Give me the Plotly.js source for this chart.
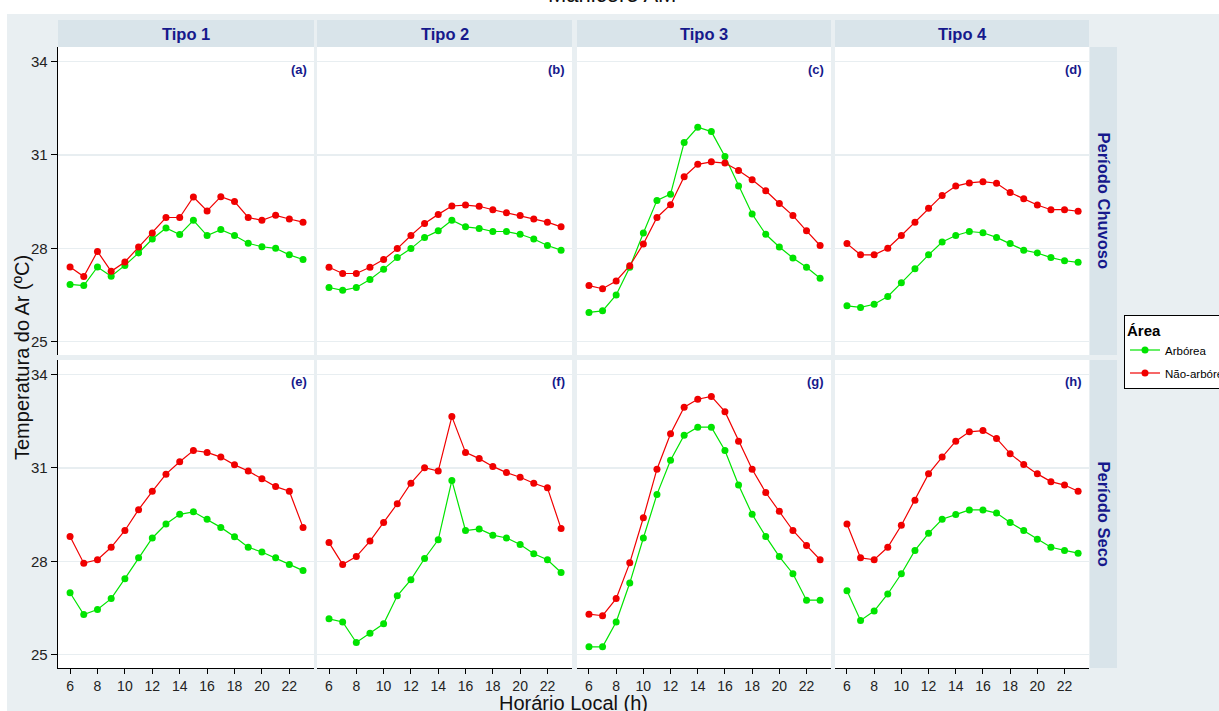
<!DOCTYPE html>
<html>
<head>
<meta charset="utf-8">
<script src="https://cdn.plot.ly/plotly-3.0.1.min.js"></script>
<style>html,body{margin:0;padding:0;background:#fff;}#chart{width:1219px;height:711px;}</style>
</head>
<body>
<div id="chart"></div>
<script>
// ---------- DATA ----------
const hours = [6,7,8,9,10,11,12,13,14,15,16,17,18,19,20,21,22,23];
const tipos = ["Tipo 1","Tipo 2","Tipo 3","Tipo 4"];
const periodos = ["Período Chuvoso","Período Seco"];
const panelLabels = ["(a)","(b)","(c)","(d)","(e)","(f)","(g)","(h)"];
const seriesNames = ["Arbórea","Não-arbórea"];
const xTickVals = [6,8,10,12,14,16,18,20,22];
const yTickVals = [25,28,31,34];

// Período Chuvoso
const arborea_chuvoso_t1 = [26.84,26.80,27.40,27.10,27.45,27.85,28.30,28.65,28.44,28.90,28.41,28.60,28.41,28.16,28.05,28.00,27.79,27.64];
const naoArborea_chuvoso_t1 = [27.40,27.09,27.90,27.26,27.56,28.04,28.49,28.99,28.99,29.65,29.20,29.66,29.50,28.99,28.90,29.06,28.94,28.84];
const arborea_chuvoso_t2 = [26.74,26.65,26.74,27.00,27.33,27.70,27.99,28.35,28.56,28.90,28.69,28.64,28.54,28.54,28.45,28.30,28.09,27.94];
const naoArborea_chuvoso_t2 = [27.39,27.19,27.19,27.39,27.64,27.99,28.41,28.80,29.09,29.36,29.39,29.35,29.24,29.14,29.05,28.94,28.84,28.69];
const arborea_chuvoso_t3 = [25.94,25.99,26.50,27.39,28.49,29.54,29.74,31.40,31.89,31.75,30.95,30.00,29.10,28.45,28.04,27.69,27.39,27.04];
const naoArborea_chuvoso_t3 = [26.80,26.70,26.95,27.44,28.14,28.99,29.40,30.30,30.70,30.78,30.74,30.50,30.20,29.85,29.44,29.05,28.56,28.09];
const arborea_chuvoso_t4 = [26.15,26.10,26.20,26.45,26.89,27.34,27.79,28.20,28.41,28.54,28.50,28.35,28.15,27.94,27.85,27.70,27.60,27.55];
const naoArborea_chuvoso_t4 = [28.15,27.79,27.79,28.00,28.41,28.84,29.29,29.70,30.00,30.10,30.14,30.09,29.79,29.59,29.39,29.24,29.24,29.19];
// Período Seco
const arborea_seco_t1 = [26.99,26.29,26.45,26.80,27.44,28.11,28.75,29.20,29.51,29.59,29.35,29.09,28.79,28.45,28.30,28.11,27.90,27.70];
const naoArborea_seco_t1 = [28.80,27.94,28.05,28.45,28.99,29.66,30.25,30.80,31.20,31.56,31.50,31.35,31.10,30.90,30.65,30.40,30.25,29.09];
const arborea_seco_t2 = [26.15,26.05,25.39,25.69,25.99,26.89,27.41,28.09,28.69,30.60,28.99,29.04,28.84,28.75,28.54,28.24,28.05,27.64];
const naoArborea_seco_t2 = [28.60,27.90,28.15,28.65,29.25,29.85,30.51,31.01,30.90,32.65,31.50,31.30,31.05,30.85,30.70,30.51,30.36,29.05];
const arborea_seco_t3 = [25.25,25.25,26.05,27.30,28.75,30.15,31.25,32.05,32.31,32.31,31.56,30.45,29.51,28.80,28.15,27.60,26.75,26.75];
const naoArborea_seco_t3 = [26.30,26.25,26.80,27.95,29.40,30.96,32.10,32.95,33.21,33.30,32.81,31.86,30.96,30.21,29.61,28.99,28.51,28.05];
const arborea_seco_t4 = [27.05,26.10,26.40,26.95,27.60,28.35,28.90,29.35,29.50,29.65,29.65,29.55,29.25,28.99,28.71,28.45,28.35,28.26];
const naoArborea_seco_t4 = [29.20,28.11,28.05,28.45,29.16,29.96,30.81,31.35,31.86,32.16,32.20,31.95,31.46,31.11,30.81,30.56,30.45,30.25];

const panelSeries = [
  [arborea_chuvoso_t1, naoArborea_chuvoso_t1],
  [arborea_chuvoso_t2, naoArborea_chuvoso_t2],
  [arborea_chuvoso_t3, naoArborea_chuvoso_t3],
  [arborea_chuvoso_t4, naoArborea_chuvoso_t4],
  [arborea_seco_t1, naoArborea_seco_t1],
  [arborea_seco_t2, naoArborea_seco_t2],
  [arborea_seco_t3, naoArborea_seco_t3],
  [arborea_seco_t4, naoArborea_seco_t4]
];

// ---------- LAYOUT HELPERS ----------
const W = 1219, H = 711;
const px = v => v / W;
const py = v => 1 - v / H;
const cols = [[58,314],[317,572],[577,831],[835,1089]];
const rows = [[47,355],[360,668]];
const colors = ["#00e400", "#f00000"];
const navy = "#16198c";
const FONT = "Liberation Sans, Arial, sans-serif";
const stripFill = "#d9e4ea";

const traces = [];
const layout = {
  width: W, height: H,
  margin: {l:0, r:0, t:0, b:0, autoexpand:false},
  paper_bgcolor: "#e9eff2",
  plot_bgcolor: "#ffffff",
  font: {family: FONT, color: "#222"},
  showlegend: true,
  legend: {
    x: px(1124), y: py(315), xanchor: "left", yanchor: "top",
    bgcolor: "#ffffff", bordercolor: "#000000", borderwidth: 1,
    font: {family: FONT, size: 11.5, color: "#000"},
    title: {text: "<b>Área</b>", font: {family: FONT, size: 15, color: "#000"}},
    itemwidth: 30, tracegroupgap: 4
  },
  shapes: [], annotations: []
};

// background white bands (top and left)
layout.shapes.push({type:"rect", xref:"paper", yref:"paper", x0:0, x1:1, y0:py(14), y1:1, fillcolor:"#ffffff", line:{width:0}, layer:"below"});
layout.shapes.push({type:"rect", xref:"paper", yref:"paper", x0:0, x1:px(7), y0:0, y1:1, fillcolor:"#ffffff", line:{width:0}, layer:"below"});

for (let r = 0; r < 2; r++) {
  for (let c = 0; c < 4; c++) {
    const k = r*4 + c + 1;
    const xn = k === 1 ? "xaxis" : "xaxis" + k;
    const yn = k === 1 ? "yaxis" : "yaxis" + k;
    const xr = k === 1 ? "x" : "x" + k;
    const yr = k === 1 ? "y" : "y" + k;
    layout[xn] = {
      domain: [px(cols[c][0]), px(cols[c][1])],
      anchor: yr,
      range: [5.12, 23.8],
      tickvals: xTickVals,
      ticktext: xTickVals.map(String),
      showgrid: false, zeroline: false,
      showticklabels: r === 1,
      ticks: r === 1 ? "outside" : "",
      ticklen: 5, tickcolor: "#000", tickwidth: 1,
      showline: r === 1, linecolor: "#000", linewidth: 1.3,
      tickfont: {family: FONT, size: 14, color: "#222"},
      fixedrange: true
    };
    layout[yn] = {
      domain: [py(rows[r][1]), py(rows[r][0])],
      anchor: xr,
      range: [24.57, 34.47],
      tickvals: yTickVals,
      ticktext: yTickVals.map(String),
      showgrid: true, gridcolor: "#e8eef1", gridwidth: 1.5,
      zeroline: false,
      showticklabels: c === 0,
      ticks: c === 0 ? "outside" : "",
      ticklen: 6, tickcolor: "#000", tickwidth: 1,
      showline: c === 0, linecolor: "#000", linewidth: 1.3,
      tickfont: {family: FONT, size: 15, color: "#222"},
      fixedrange: true
    };
    const data = panelSeries[k-1];
    for (let s = 0; s < 2; s++) {
      traces.push({
        type: "scatter", mode: "lines+markers",
        x: hours, y: data[s],
        xaxis: xr, yaxis: yr,
        name: seriesNames[s], legendgroup: seriesNames[s],
        showlegend: k === 1,
        line: {color: colors[s], width: 1.2},
        marker: {color: colors[s], size: 7},
        hoverinfo: "x+y+name"
      });
    }
    // panel label
    layout.annotations.push({
      xref: "paper", yref: "paper",
      x: px(cols[c][1] - 5), y: py(rows[r][0] + 22),
      xanchor: "right", yanchor: "middle",
      text: "<b>" + panelLabels[k-1] + "</b>", showarrow: false,
      font: {family: FONT, size: 13, color: navy}
    });
  }
}

// top strips
for (let c = 0; c < 4; c++) {
  layout.shapes.push({type:"rect", xref:"paper", yref:"paper",
    x0: px(cols[c][0]), x1: px(cols[c][1]), y0: py(47), y1: py(20),
    fillcolor: stripFill, line:{width:0}, layer:"below"});
  layout.annotations.push({xref:"paper", yref:"paper",
    x: px((cols[c][0]+cols[c][1])/2), y: py(33.5), xanchor:"center", yanchor:"middle",
    text: "<b>" + tipos[c] + "</b>", showarrow:false,
    font:{family: FONT, size: 16.5, color: navy}});
}
// right strips
for (let r = 0; r < 2; r++) {
  layout.shapes.push({type:"rect", xref:"paper", yref:"paper",
    x0: px(1090), x1: px(1117), y0: py(rows[r][1]), y1: py(rows[r][0]),
    fillcolor: stripFill, line:{width:0}, layer:"below"});
  layout.annotations.push({xref:"paper", yref:"paper",
    x: px(1103.5), y: py((rows[r][0]+rows[r][1])/2), xanchor:"center", yanchor:"middle",
    text: "<b>" + periodos[r] + "</b>", showarrow:false, textangle: 90,
    font:{family: FONT, size: 16.5, color: navy}});
}

// axis titles
layout.annotations.push({xref:"paper", yref:"paper", x: px(22), y: py(358),
  xanchor:"center", yanchor:"middle", textangle:-90, showarrow:false,
  text:"Temperatura do Ar (ºC)", font:{family: FONT, size: 20, color:"#111"}});
layout.annotations.push({xref:"paper", yref:"paper", x: px(573), y: py(703),
  xanchor:"center", yanchor:"middle", showarrow:false,
  text:"Horário Local (h)", font:{family: FONT, size: 20, color:"#111"}});
// main title (partially cut off at top, as in the reference)
layout.annotations.push({xref:"paper", yref:"paper", x: px(612), y: py(9),
  xanchor:"center", yanchor:"bottom", showarrow:false,
  text:"Manicoré AM", font:{family: FONT, size: 22, color:"#111"}});

Plotly.newPlot("chart", traces, layout, {displayModeBar:false, staticPlot:true});
</script>
</body>
</html>
